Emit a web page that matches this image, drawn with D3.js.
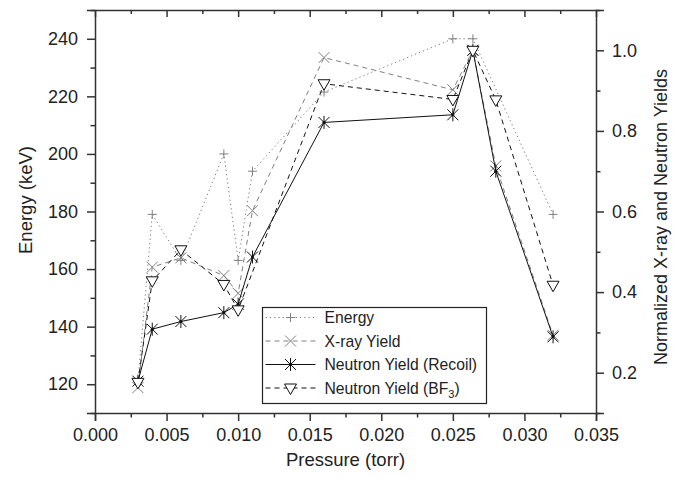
<!DOCTYPE html>
<html>
<head>
<meta charset="utf-8">
<script src="https://cdn.jsdelivr.net/npm/d3@7"></script>
<style>
  body { margin: 0; background: #fff; }
  svg { display: block; font-family: "Liberation Sans", Arial, sans-serif; }
  .axis path, .axis line { stroke: #333; stroke-width: 1.5; }
  .axis text { fill: #222; font-size: 18px; }
</style>
</head>
<body>
<div id="viz"></div>
<script>
// pressure (torr) for each measurement
const pressure = [0.003, 0.004, 0.006, 0.009, 0.010, 0.011, 0.016, 0.025, 0.0264, 0.028, 0.032]
const energyPressure = [0.003, 0.004, 0.006, 0.009, 0.010, 0.011, 0.016, 0.025, 0.0264, 0.032]
const bf3Pressure = [0.003, 0.004, 0.006, 0.009, 0.010, 0.016, 0.025, 0.0264, 0.028, 0.032]

// series values
const energy = [121, 179, 163, 200, 163, 194, 221.5, 240, 240, 179]
const xrayYield = [0.163, 0.462, 0.485, 0.441, 0.397, 0.602, 0.982, 0.902, 1.0, 0.713, 0.293]
const recoilYield = [0.179, 0.308, 0.327, 0.349, 0.370, 0.487, 0.821, 0.840, 1.0, 0.700, 0.289]
const bf3Yield = [0.176, 0.428, 0.505, 0.419, 0.356, 0.917, 0.878, 1.0, 0.877, 0.417]

// ticks
const xTicks = [0, 0.005, 0.010, 0.015, 0.020, 0.025, 0.030, 0.035]
const xMinor = [0.0025, 0.0075, 0.0125, 0.0175, 0.0225, 0.0275, 0.0325]
const yTicks = [120, 140, 160, 180, 200, 220, 240]
const yMinor = [110, 130, 150, 170, 190, 210, 230, 250]
const y2Ticks = [0.2, 0.4, 0.6, 0.8, 1.0]
const y2Minor = [0.1, 0.3, 0.5, 0.7, 0.9, 1.1]

const width = 680, height = 478
const margin = { top: 10, right: 84, bottom: 65, left: 95 }
const w = width - margin.left - margin.right,
      h = height - margin.top - margin.bottom

const svg = d3.select("#viz").append("svg")
    .attr("width", width)
    .attr("height", height)

const g = svg.append("g")
    .attr("transform", `translate(${margin.left},${margin.top})`)

const x = d3.scaleLinear().domain([0, 0.035]).range([0, w])
const yL = d3.scaleLinear().domain([110, 250]).range([h, 0])
const yR = d3.scaleLinear().domain([0.1, 1.1]).range([h, 0])

// axes - major and minor
g.append("g").attr("class", "axis")
    .attr("transform", `translate(0,${h})`)
    .call(d3.axisBottom(x).tickValues(xTicks).tickSize(8).tickPadding(7).tickFormat(d3.format(".3f")))
g.append("g").attr("class", "axis")
    .attr("transform", `translate(0,${h})`)
    .call(d3.axisBottom(x).tickValues(xMinor).tickSize(4.5).tickFormat(""))
    .select(".domain").remove()

// top axis, ticks pointing in
g.append("g").attr("class", "axis")
    .call(d3.axisBottom(x).tickValues(xTicks).tickSizeInner(7).tickSizeOuter(0).tickFormat(""))
g.append("g").attr("class", "axis")
    .call(d3.axisBottom(x).tickValues(xMinor).tickSize(4).tickFormat(""))
    .select(".domain").remove()

g.append("g").attr("class", "axis")
    .call(d3.axisLeft(yL).tickValues(yTicks).tickSize(8).tickPadding(9))
g.append("g").attr("class", "axis")
    .call(d3.axisLeft(yL).tickValues(yMinor).tickSize(4.5).tickFormat(""))
    .select(".domain").remove()

g.append("g").attr("class", "axis")
    .attr("transform", `translate(${w},0)`)
    .call(d3.axisRight(yR).tickValues(y2Ticks).tickSize(8).tickPadding(8).tickFormat(d3.format(".1f")))
g.append("g").attr("class", "axis")
    .attr("transform", `translate(${w},0)`)
    .call(d3.axisRight(yR).tickValues(y2Minor).tickSize(4.5).tickFormat(""))
    .select(".domain").remove()

// axis titles
svg.append("text")
    .attr("x", margin.left + w / 2).attr("y", 466)
    .attr("text-anchor", "middle")
    .style("font-size", "18.5px").style("fill", "#222")
    .text("Pressure (torr)")
svg.append("text")
    .attr("transform", "translate(32,200) rotate(-90)")
    .attr("text-anchor", "middle")
    .style("font-size", "18.5px").style("fill", "#222")
    .text("Energy (keV)")
svg.append("text")
    .attr("transform", "translate(667,217) rotate(-90)")
    .attr("text-anchor", "middle")
    .style("font-size", "18px").style("fill", "#222")
    .text("Normalized X-ray and Neutron Yields")

// marker shapes
const markers = {
  plus: "M-4.5,0H4.5M0,-4.5V4.5",
  cross: "M-5.5,-5.5L5.5,5.5M-5.5,5.5L5.5,-5.5",
  star: "M-5.5,-5.5L5.5,5.5M-5.5,5.5L5.5,-5.5M0,-6.5V6.5",
  tri: "M-6,-4L6,-4L0,6.5Z"
}

const series = [
  { name: "Energy", xs: energyPressure, ys: energy, scale: yL, color: "#808080", dash: "1.3,3", marker: "plus" },
  { name: "X-ray Yield", xs: pressure, ys: xrayYield, scale: yR, color: "#808080", dash: "5,4", marker: "cross" },
  { name: "Neutron Yield (Recoil)", xs: pressure, ys: recoilYield, scale: yR, color: "#111", dash: null, marker: "star" },
  { name: "Neutron Yield (BF3)", xs: bf3Pressure, ys: bf3Yield, scale: yR, color: "#111", dash: "5,4", marker: "tri" }
]

series.forEach(s => {
  const pts = s.xs.map((p, i) => [x(p), s.scale(s.ys[i])])
  const sg = g.append("g")
  sg.append("path")
      .attr("d", d3.line()(pts))
      .attr("fill", "none")
      .attr("stroke", s.color)
      .attr("stroke-width", 1)
      .attr("stroke-dasharray", s.dash)
  sg.selectAll("path.mk").data(pts).enter().append("path")
      .attr("class", "mk")
      .attr("transform", d => `translate(${d[0]},${d[1]})`)
      .attr("d", markers[s.marker])
      .attr("fill", s.marker == "tri" ? "#fff" : "none")
      .attr("stroke", s.color)
      .attr("stroke-width", 1)
  if (s.marker == "star") {
    sg.selectAll("circle").data(pts).enter().append("circle")
        .attr("cx", d => d[0]).attr("cy", d => d[1]).attr("r", 1.6)
        .attr("fill", s.color)
  }
})

// legend
const legend = svg.append("g").attr("transform", "translate(262.5,307.5)")
legend.append("rect")
    .attr("width", 224).attr("height", 96)
    .attr("fill", "#fff").attr("stroke", "#222").attr("stroke-width", 1.2)

series.forEach((s, i) => {
  const ly = 10 + i * 23.5
  const row = legend.append("g").attr("transform", `translate(0,${ly})`)
  row.append("line")
      .attr("x1", 3).attr("x2", 53)
      .attr("stroke", s.color).attr("stroke-width", 1)
      .attr("stroke-dasharray", s.dash)
  row.append("path")
      .attr("transform", "translate(28,0)")
      .attr("d", markers[s.marker])
      .attr("fill", s.marker == "tri" ? "#fff" : "none")
      .attr("stroke", s.color).attr("stroke-width", 1)
  if (s.marker == "star") row.append("circle").attr("cx", 28).attr("r", 1.6).attr("fill", s.color)
  const t = row.append("text")
      .attr("x", 62).attr("y", 5.5)
      .style("font-size", "15.7px").style("fill", "#222")
  if (s.name.endsWith("(BF3)")) {
    t.append("tspan").text("Neutron Yield (BF")
    t.append("tspan").attr("dy", 4).style("font-size", "11px").text("3")
    t.append("tspan").attr("dy", -4).text(")")
  } else {
    t.text(s.name)
  }
})
</script>
</body>
</html>
